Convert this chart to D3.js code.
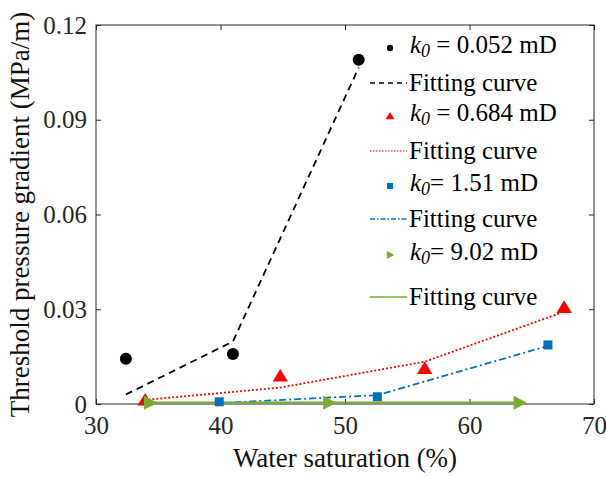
<!DOCTYPE html>
<html>
<head>
<meta charset="utf-8">
<script src="https://cdn.jsdelivr.net/npm/d3@7"></script>
</head>
<body style="margin:0">
<svg id="chart" width="606" height="477"></svg>
<script>
// water saturation (%) and threshold pressure gradient (MPa/m)
const xTicks = [30, 40, 50, 60, 70];
const yTicks = [0, 0.03, 0.06, 0.09, 0.12];
const yTickLabels = ["0", "0.03", "0.06", "0.09", "0.12"];

// k0 = 0.052 mD
const blackX = [32.4, 41.0, 51.1];
const blackY = [0.0143, 0.0158, 0.1090];
const blackFitX = [32.4, 41.0, 51.1];
const blackFitY = [0.0030, 0.0198, 0.1065];

// k0 = 0.684 mD
const redX = [33.95, 44.8, 56.4, 67.6];
const redY = [0.0013, 0.0089, 0.0113, 0.0306];
const redFitX = [34.2, 44.8, 56.4, 67.3];
const redFitY = [0.0014, 0.0052, 0.0134, 0.0288];

// k0 = 1.51 mD
const blueX = [39.9, 52.6, 66.3];
const blueY = [0.0007, 0.0023, 0.0187];
const blueFitX = [39.9, 52.6, 66.3];
const blueFitY = [0.0003, 0.0028, 0.0184];

// k0 = 9.02 mD
const greenX = [34.3, 48.7, 64.0];
const greenY = [0.0004, 0.0004, 0.0004];
const greenFitX = [34.3, 48.7, 64.0];
const greenFitY = [0.0005, 0.0005, 0.0005];

const legendLabels = ["0.052 mD", "0.684 mD", "1.51 mD", "9.02 mD"];

const font = "'Liberation Serif'";

const margin = {left: 96, top: 25, right: 12, bottom: 73};
const W = 606, H = 477;
const width = W - margin.left - margin.right,
      height = H - margin.top - margin.bottom;

const svg = d3.select("#chart");
const g = svg.append("g")
    .attr("transform", "translate(" + margin.left + "," + margin.top + ")");

const x = d3.scaleLinear().domain([30, 70]).range([0, width]);
const y = d3.scaleLinear().domain([0, 0.12]).range([height, 0]);

const axisColor = "#262626";

// axes, MATLAB style box with inward ticks on all sides
g.append("g")
    .attr("transform", `translate(0, ${height})`)
    .call(d3.axisBottom(x).tickValues(xTicks).tickSize(-5).tickPadding(12).tickFormat(d3.format("d")))
    .call(a => a.select(".domain").remove());
g.append("g")
    .call(d3.axisLeft(y).tickValues(yTicks).tickSize(-5).tickPadding(9)
      .tickFormat((d, i) => yTickLabels[i]))
    .call(a => a.select(".domain").remove());
g.append("g")
    .call(d3.axisTop(x).tickValues(xTicks).tickSize(-5).tickFormat(""))
    .call(a => a.select(".domain").remove());
g.append("g")
    .attr("transform", `translate(${width}, 0)`)
    .call(d3.axisRight(y).tickValues(yTicks).tickSize(-5).tickFormat(""))
    .call(a => a.select(".domain").remove());

g.selectAll(".tick line").attr("stroke", axisColor);
g.selectAll(".tick text")
    .attr("fill", axisColor)
    .attr("font-size", 25);

g.append("rect")
    .attr("width", width)
    .attr("height", height)
    .attr("fill", "none")
    .attr("stroke", axisColor)
    .attr("stroke-width", 1);

// axis titles
svg.append("text")
    .attr("x", margin.left + width / 2)
    .attr("y", 467)
    .attr("text-anchor", "middle")
    .attr("font-size", 27)
    .attr("fill", "#111")
    .text("Water saturation (%)");
svg.append("text")
    .attr("transform", `translate(29, ${margin.top + height / 2}) rotate(-90)`)
    .attr("text-anchor", "middle")
    .attr("font-size", 27)
    .attr("fill", "#111")
    .text("Threshold pressure gradient (MPa/m)");

const line = d3.line().x(d => x(d[0])).y(d => y(d[1]));
const zip = (a, b) => a.map((v, i) => [v, b[i]]);

const series = [
  {color: "#000000", dash: "7,5", width: 1.8, sym: "circle", ptX: blackX, ptY: blackY, fitX: blackFitX, fitY: blackFitY},
  {color: "#ff0000", dash: "2,2", width: 1.8, sym: "triangle", ptX: redX, ptY: redY, fitX: redFitX, fitY: redFitY},
  {color: "#0072bd", dash: "7,3,2,3", width: 1.8, sym: "square", ptX: blueX, ptY: blueY, fitX: blueFitX, fitY: blueFitY},
  {color: "#77ac30", dash: null, width: 2, sym: "right", ptX: greenX, ptY: greenY, fitX: greenFitX, fitY: greenFitY}
];

function marker(sel, sym, s, color) {
  // s = half size of the marker
  if (sym === "circle") {
    sel.append("circle").attr("r", s).attr("fill", color);
  } else if (sym === "triangle") {
    sel.append("path").attr("d", `M0,${-s}L${s * 1.1},${s * 0.8}L${-s * 1.1},${s * 0.8}Z`).attr("fill", color);
  } else if (sym === "square") {
    sel.append("rect").attr("x", -s).attr("y", -s).attr("width", 2 * s).attr("height", 2 * s).attr("fill", color);
  } else {
    sel.append("path").attr("d", `M${-s * 0.8},${-s}L${s * 1.1},0L${-s * 0.8},${s}Z`).attr("fill", color);
  }
}

const sizes = {circle: 6, triangle: 7, square: 4.5, right: 7};
const legSizes = {circle: 3.2, triangle: 4, square: 3, right: 4};

// fitting curves first, then data markers
series.forEach(s => {
  g.append("path")
      .datum(zip(s.fitX, s.fitY))
      .attr("d", line)
      .attr("fill", "none")
      .attr("stroke", s.color)
      .attr("stroke-width", s.width)
      .attr("stroke-dasharray", s.dash);
});
series.forEach(s => {
  g.selectAll(null)
      .data(zip(s.ptX, s.ptY))
      .enter().append("g")
      .attr("transform", d => `translate(${x(d[0])},${y(d[1])})`)
      .each(function() { marker(d3.select(this), s.sym, sizes[s.sym], s.color); });
});

// legend
const legMarkerY = [48, 116, 186, 255];
const legFitY = [83, 151, 219, 297];
const leg = svg.append("g");
series.forEach((s, i) => {
  const m = leg.append("g").attr("transform", `translate(390, ${legMarkerY[i]})`);
  marker(m, s.sym, legSizes[s.sym], s.color);
  const t = leg.append("text")
      .attr("x", 410)
      .attr("y", legMarkerY[i] + 5)
      .attr("font-size", 25)
      .attr("fill", "#000");
  t.append("tspan").attr("font-style", "italic").text("k");
  t.append("tspan").attr("font-style", "italic").attr("font-size", 18)
      .attr("dy", 4).text("0");
  t.append("tspan").attr("dy", -4).text((i < 2 ? " = " : "= ") + legendLabels[i]);

  leg.append("line")
      .attr("x1", 370).attr("x2", 407)
      .attr("y1", legFitY[i]).attr("y2", legFitY[i])
      .attr("stroke", s.color)
      .attr("stroke-width", s.dash === "2,2" ? 1.2 : 1.4)
      .attr("stroke-dasharray", s.dash === "7,5" ? "5,4" : (s.dash === "2,2" ? "1.5,1.5" : (s.dash ? "5,2,1.5,2" : null)));
  leg.append("text")
      .attr("x", 409)
      .attr("y", legFitY[i] + 8)
      .attr("font-size", 25)
      .attr("fill", "#000")
      .text("Fitting curve");
});

// every label in the Times-like serif
svg.selectAll("text, tspan").attr("font-family", font);
</script>
</body>
</html>
